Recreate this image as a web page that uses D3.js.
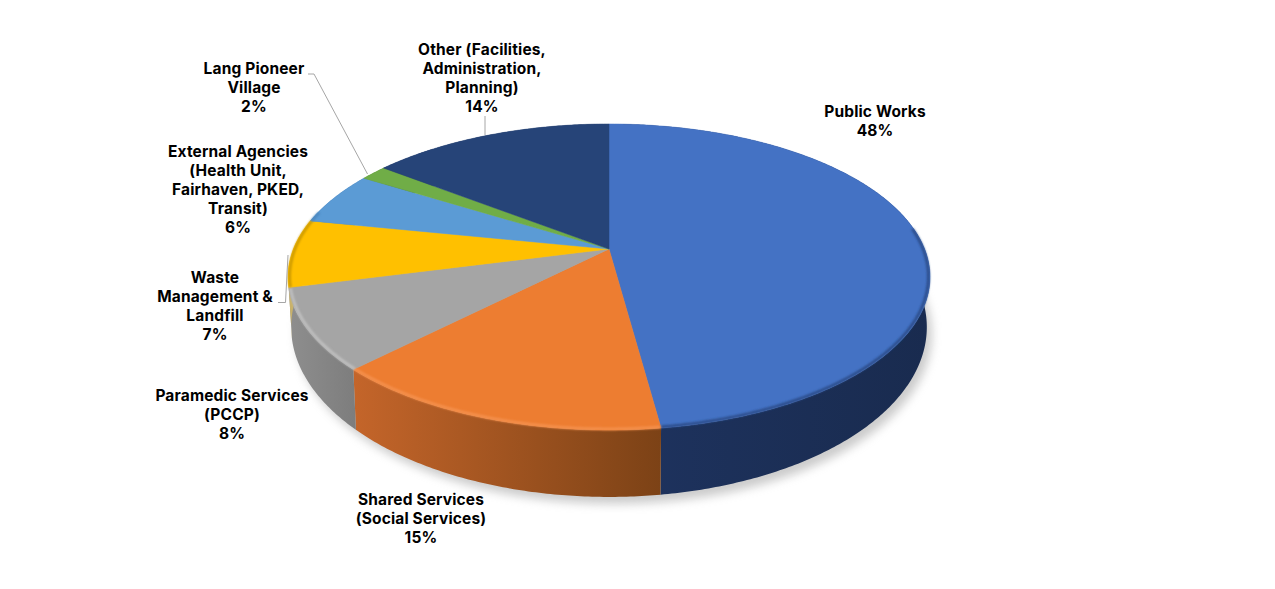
<!DOCTYPE html>
<html>
<head>
<meta charset="utf-8">
<style>
  html, body { margin: 0; padding: 0; background: #fff; }
  svg { display: block; }
  text { font-family: Inter, "DejaVu Sans", sans-serif; font-weight: 700; font-size: 15.5px; letter-spacing: 0.15px; fill: #000; text-anchor: middle; }
</style>
<script src="https://cdn.jsdelivr.net/npm/d3@7"></script>
</head>
<body>
<div id="chart"></div>
<script>
// Chart values (the labels show them rounded)
const categories = ['Public Works', 'Shared Services (Social Services)', 'Paramedic Services (PCCP)',
  'Waste Management & Landfill', 'External Agencies (Health Unit, Fairhaven, PKED, Transit)',
  'Lang Pioneer Village', 'Other (Facilities, Administration, Planning)'];
const shares = [47.5, 14.5, 8.49, 7.1, 5.6, 1.6, 14.49];

// Label text, wrapped as in the picture (the percentage line is added from shares)
const labelLines = [
  ['Public Works'],
  ['Shared Services', '(Social Services)'],
  ['Paramedic Services', '(PCCP)'],
  ['Waste', 'Management &', 'Landfill'],
  ['External Agencies', '(Health Unit,', 'Fairhaven, PKED,', 'Transit)'],
  ['Lang Pioneer', 'Village'],
  ['Other (Facilities,', 'Administration,', 'Planning)']
];

// Layout and style, separate from the data
const labelX = [875, 421, 232, 215, 238, 254, 482];
const labelY = [117, 505, 401, 283, 157, 74, 55];
const lineStep = 18.9;
const topColors = ['#4472c4', '#ed7d31', '#a5a5a5', '#ffc000', '#5b9bd5', '#70ad47', '#264478'];
const wallLeft = ['#1e335f', '#c4652a', '#8e8e8e', '#c9b26a', '#3f6f9c', '#4a7a2e', '#1a2f55'];
const wallRight = ['#192b4f', '#7c4216', '#7d7d7d', '#c9b26a', '#3f6f9c', '#4a7a2e', '#1a2f55'];
const rimColors = ['#2a4a85', '#f59250', '#c2c2c2', '#c79600', '#4a86bd', '#5d9639', '#1c3560'];
const rimRange = [82, 285].map(d => d * Math.PI / 180);
const leaderLines = [
  [[308, 74], [314, 74], [367.5, 174]],
  [[485, 116], [485, 135]],
  [[278, 302.5], [285.5, 302.5], [288, 255]]
];

const width = 1275, height = 589;
const apex = { x: 609, y: 249 };

// Tilted disc: unit circle coordinates to the screen, with perspective so the
// pie centre sits above the middle of the ellipse
const persp = 0.183, radiusX = 315.6, radiusY = 147.9;
function projectTop(angle, r) {
  const u = r * Math.sin(angle), v = -r * Math.cos(angle), w = 1 - persp * v;
  return [apex.x + radiusX * u / w, apex.y + radiusY * v / w];
}
function projectBottom(angle) {
  const p = projectTop(angle, 1);
  return [apex.x + (p[0] - apex.x) * 0.99, apex.y + (p[1] - apex.y) * 1.11 + 47];
}
const line = d3.line();
function arcAngles(a0, a1) {
  const n = Math.max(2, Math.ceil((a1 - a0) / 0.01));
  return d3.range(n + 1).map(i => a0 + (a1 - a0) * i / n);
}

const slices = d3.pie().sort(null)(shares);

const svg = d3.select('#chart').append('svg')
  .attr('width', width)
  .attr('height', height)
  .attr('viewBox', [0, 0, width, height]);

const defs = svg.append('defs');
defs.append('filter').attr('id', 'shadow')
  .attr('x', '-10%').attr('y', '-10%').attr('width', '120%').attr('height', '120%')
  .append('feGaussianBlur').attr('stdDeviation', 5);
defs.append('filter').attr('id', 'soft')
  .attr('filterUnits', 'userSpaceOnUse')
  .attr('x', 0).attr('y', 0).attr('width', width).attr('height', height)
  .append('feGaussianBlur').attr('stdDeviation', 1);

slices.forEach((s, i) => {
  const grad = defs.append('linearGradient').attr('id', 'wall' + i);
  grad.append('stop').attr('offset', 0).attr('stop-color', wallLeft[i]);
  grad.append('stop').attr('offset', 1).attr('stop-color', wallRight[i]);
});

// Shadow under the disc
const wholeCircle = arcAngles(0, 2 * Math.PI);
svg.append('path')
  .attr('d', line(wholeCircle.map(projectBottom)) + 'Z')
  .attr('transform', 'translate(5,7)')
  .attr('fill', '#999')
  .attr('opacity', 0.5)
  .attr('filter', 'url(#shadow)');

// Side walls
svg.append('g').selectAll('path')
  .data(slices)
  .join('path')
  .attr('d', d => {
    const angles = arcAngles(d.startAngle, d.endAngle);
    const upper = angles.map(a => projectTop(a, 1));
    const lower = angles.map(projectBottom).reverse();
    return line(upper.concat(lower)) + 'Z';
  })
  .attr('fill', (d, i) => `url(#wall${i})`);

// Top faces
svg.append('g').selectAll('path')
  .data(slices)
  .join('path')
  .attr('d', d => {
    const rim = arcAngles(d.startAngle, d.endAngle).map(a => projectTop(a, 1));
    return line([[apex.x, apex.y]].concat(rim)) + 'Z';
  })
  .attr('fill', (d, i) => topColors[i])
  .attr('stroke', (d, i) => topColors[i])
  .attr('stroke-width', 0.5);

// Bevel along the front of the rim only
svg.append('g').selectAll('path')
  .data(slices)
  .join('path')
  .attr('d', d => {
    const a0 = Math.max(d.startAngle, rimRange[0]), a1 = Math.min(d.endAngle, rimRange[1]);
    if (a1 <= a0) return null;
    return line(arcAngles(a0, a1).map(a => projectTop(a, 0.995)));
  })
  .attr('fill', 'none')
  .attr('stroke', (d, i) => rimColors[i])
  .attr('stroke-width', 2.5)
  .attr('filter', 'url(#soft)');

// Leader lines
svg.append('g').selectAll('path')
  .data(leaderLines)
  .join('path')
  .attr('d', d => line(d))
  .attr('fill', 'none')
  .attr('stroke', '#a6a6a6')
  .attr('stroke-width', 1);

// Labels
const labels = svg.append('g').selectAll('text')
  .data(categories)
  .join('text')
  .attr('transform', (d, i) => `translate(${labelX[i]},${labelY[i]})`);
labels.selectAll('tspan')
  .data((d, i) => labelLines[i].concat(Math.round(shares[i]) + '%'))
  .join('tspan')
  .attr('x', 0)
  .attr('y', (d, j) => j * lineStep)
  .text(d => d);
</script>
</body>
</html>
